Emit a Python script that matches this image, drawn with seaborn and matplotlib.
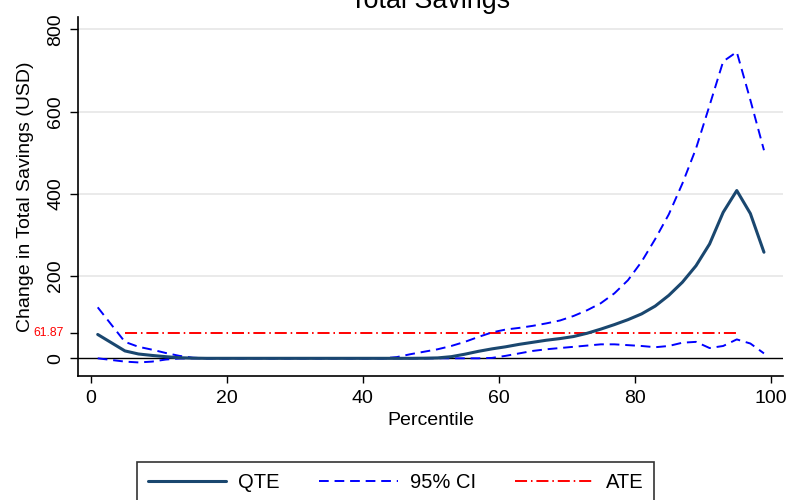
import numpy as np
import pandas as pd
import matplotlib
matplotlib.use("Agg")
import matplotlib.pyplot as plt
from matplotlib.lines import Line2D
import seaborn as sns

# Percentile grid and estimates
percentiles = [1, 3, 5, 7, 9, 11, 13, 15, 17, 19, 21, 23, 25, 27, 29, 31, 33,
               35, 37, 39, 41, 43, 45, 47, 49, 51, 53, 55, 57, 59, 61, 63, 65,
               67, 69, 71, 73, 75, 77, 79, 81, 83, 85, 87, 89, 91, 93, 95, 97, 99]

qte = [58, 38, 18, 10.5, 7, 4, 1.5, 0.5,
       0, 0, 0, 0, 0, 0, 0, 0, 0, 0, 0, 0, 0, 0, 0, 0,
       0.3, 1, 4, 10, 17, 23, 28, 34, 39, 44, 48, 53, 61, 71, 82, 94,
       108, 127, 153, 185, 225, 278, 355, 408, 352, 258]

ci_upper = [124, 82, 40, 28, 21, 13, 6, 1.5,
            0, 0, 0, 0, 0, 0, 0, 0, 0, 0, 0, 0, 0, 0,
            3, 10, 16, 22, 30, 40, 52, 63, 70, 74, 79, 85, 92, 103, 117, 134,
            158, 190, 235, 290, 350, 425, 510, 615, 722, 745, 628, 506]

ci_lower = [0, -4, -8, -10, -8, -3, -0.5, 0,
            0, 0, 0, 0, 0, 0, 0, 0, 0, 0, 0, 0, 0, 0, 0, 0, 0, 0, 0, 0, 0,
            1, 6, 12, 18, 22, 25, 28, 31, 34, 34, 32, 30, 27, 30, 38, 40,
            25, 30, 46, 36, 12]

ate_value = 61.87
ate_span = [5, 95]

y_ticks = [0, 200, 400, 600, 800]
x_ticks = [0, 20, 40, 60, 80, 100]

df = pd.DataFrame({"pct": percentiles, "qte": qte,
                   "upper": ci_upper, "lower": ci_lower})
ate_df = pd.DataFrame({"pct": ate_span, "ate": [ate_value] * len(ate_span)})

sns.set_theme(style="white")
plt.rcParams["font.family"] = ["Liberation Sans", "DejaVu Sans"]
plt.rcParams["text.color"] = "black"
plt.rcParams["axes.labelcolor"] = "black"
plt.rcParams["xtick.color"] = "black"
plt.rcParams["ytick.color"] = "black"

fig = plt.figure(figsize=(7.87, 5.0), dpi=100)
ax = fig.add_axes([78 / 787, 1 - 376 / 500, (783 - 78) / 787, (376 - 17) / 500])

navy = "#1a476f"
blue = "#0000ff"
red = "#ff0000"

ax.axhline(0, color="black", lw=1.0, zorder=1)
for y in y_ticks[1:]:
    ax.axhline(y, color="#e6e6e6", lw=1.2, zorder=0)

ci_dash = (5, 3)
ate_dash = (6.2, 2.0, 0.8, 2.0)

sns.lineplot(data=ate_df, x="pct", y="ate", ax=ax, color=red, lw=1.4, zorder=2)
ax.lines[-1].set_dashes(ate_dash)
sns.lineplot(data=df, x="pct", y="upper", ax=ax, color=blue, lw=1.4, zorder=3)
ax.lines[-1].set_dashes(ci_dash)
sns.lineplot(data=df, x="pct", y="lower", ax=ax, color=blue, lw=1.4, zorder=3)
ax.lines[-1].set_dashes(ci_dash)
sns.lineplot(data=df, x="pct", y="qte", ax=ax, color=navy, lw=2.2, zorder=4)

ax.set_xlim(-1.9, 101.8)
ax.set_ylim(-43, 830)

ax.set_xticks(x_ticks)
ax.set_xticklabels([str(t) for t in x_ticks], fontsize=14)
ax.set_yticks(y_ticks + [ate_value])
ylabels = [str(t) for t in y_ticks] + [f"{ate_value:.2f}"]
ax.set_yticklabels(ylabels)
for lab, txt in zip(ax.get_yticklabels(), ylabels):
    if txt == f"{ate_value:.2f}":
        lab.set_rotation(0)
        lab.set_fontsize(8.8)
        lab.set_color(red)
        lab.set_va("center")
    else:
        lab.set_rotation(90)
        lab.set_fontsize(14)
        lab.set_va("center")

ax.tick_params(axis="y", which="both", length=6, width=1, color="black",
               pad=4, left=True)
ax.tick_params(axis="x", which="both", length=5, width=1, color="black",
               pad=5, bottom=True)

for side in ["top", "right"]:
    ax.spines[side].set_visible(False)
for side in ["left", "bottom"]:
    ax.spines[side].set_color("black")
    ax.spines[side].set_linewidth(1.2)

ax.set_xlabel("Percentile", fontsize=14, labelpad=4)
ax.set_ylabel("Change in Total Savings (USD)", fontsize=14, labelpad=0)

fig.text(430.5 / 787, 1 - 8 / 500, "Total Savings", fontsize=19.4,
         ha="center", va="baseline")

handles = [
    Line2D([], [], color=navy, lw=2.2),
    Line2D([], [], color=blue, lw=1.4, dashes=ci_dash),
    Line2D([], [], color=red, lw=1.4, dashes=ate_dash),
]
leg = fig.legend(handles, ["QTE", "95% CI", "ATE"], loc="upper center",
                 bbox_to_anchor=(395.5 / 787, 1 - 462 / 500), ncol=3,
                 fontsize=14.5, frameon=True, fancybox=False,
                 handlelength=3.9, handletextpad=0.6, columnspacing=1.95,
                 borderpad=0.55, borderaxespad=0)
frame = leg.get_frame()
frame.set_edgecolor("#333333")
frame.set_linewidth(1.2)
frame.set_facecolor("white")
frame.set_alpha(1)

fig.savefig("out.png", dpi=100)
